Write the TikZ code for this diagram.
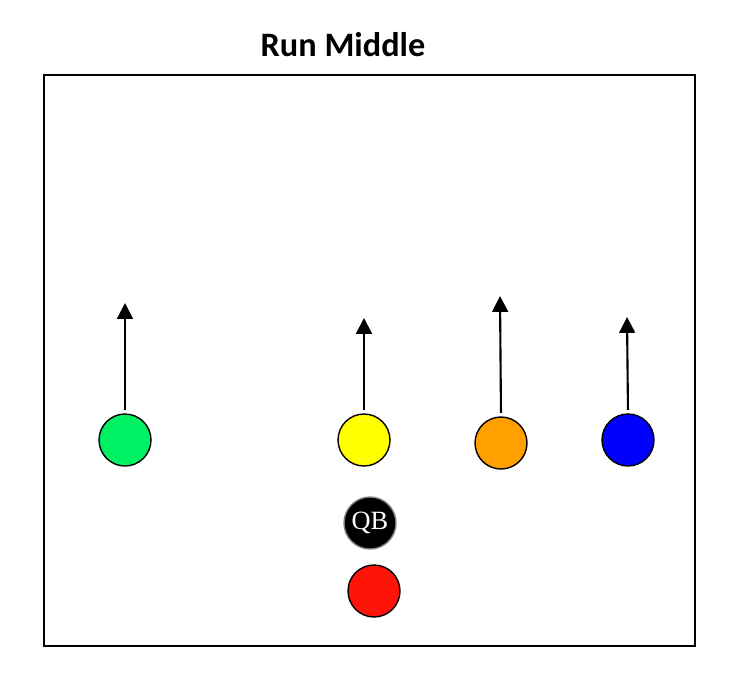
\documentclass[tikz,border=0pt]{standalone}
\usepackage{fontspec}
\setmainfont{Liberation Serif}
\newfontfamily\titlefont{Carlito}
\usetikzlibrary{arrows.meta}
\tikzset{
  player/.style={circle,draw=black,thick,minimum size=52\pxu,inner sep=0pt},
  route/.style={-{Triangle[width=9pt,length=9pt]},line width=1.2pt,shorten <=2pt}
}
\newlength{\pxu}
\setlength{\pxu}{0.02cm}
\begin{document}
\begin{tikzpicture}[x=0.02cm,y=-0.02cm]
\useasboundingbox (0,0) rectangle (733,673);
\node[font=\titlefont\bfseries\fontsize{19.5}{23}\selectfont] (title) at (343,45) {Run Middle};
\draw[black,line width=0.6pt] (44,75) rectangle (695,646);
% receivers
\node[player,fill={rgb,255:red,0;green,240;blue,100}] (wr1) at (125,440) {};
\node[player,fill={rgb,255:red,255;green,255;blue,0}] (wr2) at (364,440) {};
\node[player,fill={rgb,255:red,255;green,160;blue,0}] (wr3) at (501,443) {};
\node[player,fill={rgb,255:red,0;green,0;blue,255}] (wr4) at (628,440) {};
% backfield
\node[player,fill=black,draw=gray,text=white,font=\fontsize{15}{17}\selectfont] (qb) at (370,523) {QB};
\node[player,fill={rgb,255:red,255;green,20;blue,10}] (rb) at (374,591) {};
% routes
\coordinate (e1) at (125,303);
\coordinate (e2) at (364,318);
\coordinate (e3) at (500,296);
\coordinate (e4) at (627,317);
\draw[route] (wr1.north) -- (e1);
\draw[route] (wr2.north) -- (e2);
\draw[route] (wr3.north) -- (e3);
\draw[route] (wr4.north) -- (e4);
\end{tikzpicture}
\end{document}
